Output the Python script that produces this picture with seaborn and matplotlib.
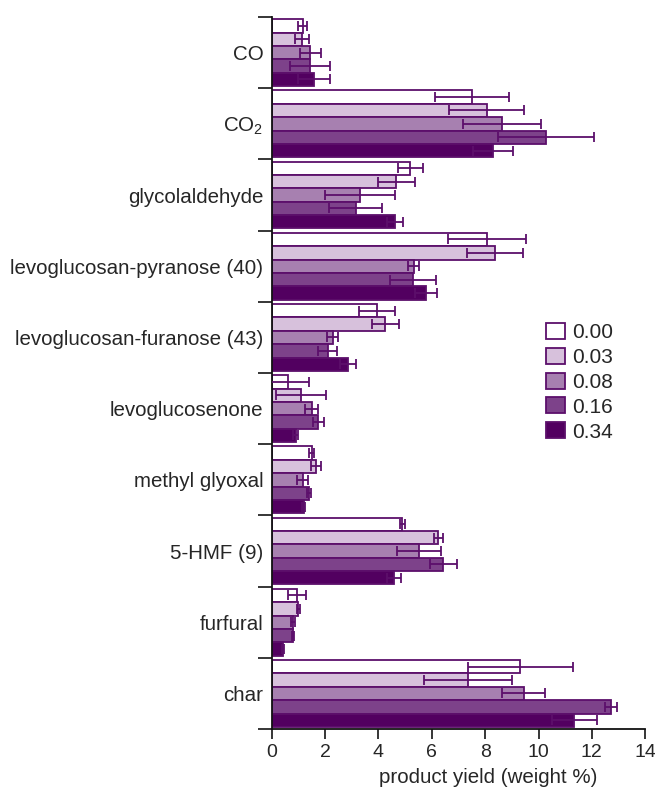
import numpy as np
import pandas as pd
import matplotlib
matplotlib.use("Agg")
import matplotlib.pyplot as plt
import seaborn as sns

# categories (top to bottom) and series
products = ["CO", "CO$_2$", "glycolaldehyde", "levoglucosan-pyranose (40)",
            "levoglucosan-furanose (43)", "levoglucosenone", "methyl glyoxal",
            "5-HMF (9)", "furfural", "char"]
levels = ["0.00", "0.03", "0.08", "0.16", "0.34"]

yield_000 = [1.16, 7.52, 5.19, 8.07, 3.94, 0.59, 1.49, 4.89, 0.94, 9.31]
yield_003 = [1.14, 8.05, 4.67, 8.37, 4.26, 1.11, 1.66, 6.25, 1.00, 7.35]
yield_008 = [1.45, 8.62, 3.30, 5.32, 2.28, 1.49, 1.16, 5.52, 0.79, 9.44]
yield_016 = [1.44, 10.28, 3.15, 5.29, 2.10, 1.74, 1.40, 6.43, 0.80, 12.73]
yield_034 = [1.60, 8.29, 4.62, 5.77, 2.87, 0.89, 1.19, 4.59, 0.41, 11.34]

err_000 = [0.17, 1.39, 0.47, 1.47, 0.68, 0.79, 0.11, 0.10, 0.33, 1.97]
err_003 = [0.26, 1.42, 0.69, 1.06, 0.52, 0.94, 0.20, 0.17, 0.06, 1.64]
err_008 = [0.40, 1.47, 1.31, 0.20, 0.21, 0.25, 0.20, 0.82, 0.07, 0.82]
err_016 = [0.76, 1.79, 1.00, 0.87, 0.36, 0.20, 0.08, 0.50, 0.05, 0.22]
err_034 = [0.60, 0.76, 0.31, 0.41, 0.30, 0.11, 0.05, 0.26, 0.04, 0.84]

colors = ["#ffffff", "#d7c1dc", "#a780b0", "#7d428a", "#520060"]
edge = "#5c0f6b"

all_vals = [yield_000, yield_003, yield_008, yield_016, yield_034]
all_errs = [err_000, err_003, err_008, err_016, err_034]

rows = []
for lev, vals in zip(levels, all_vals):
    for p, v in zip(products, vals):
        rows.append({"product": p, "level": lev, "yield": v})
df = pd.DataFrame(rows)

sns.set_style("ticks")
plt.rcParams["font.family"] = ["Liberation Sans", "DejaVu Sans"]
plt.rcParams["mathtext.fontset"] = "custom"
plt.rcParams["mathtext.rm"] = "Liberation Sans"

fig = plt.figure(figsize=(6.55, 7.92), dpi=100)
ax = fig.add_axes([0.415, 0.0795, 0.57, 0.899])

sns.barplot(data=df, y="product", x="yield", hue="level", order=products,
            hue_order=levels, palette=colors, saturation=1, orient="h",
            width=0.94, edgecolor=edge, linewidth=1.3, errorbar=None, ax=ax)

# error bars placed on the drawn bars
for cont, errs in zip(ax.containers, all_errs):
    ys = [b.get_y() + b.get_height() / 2 for b in cont]
    xs = [b.get_width() for b in cont]
    ax.errorbar(xs, ys, xerr=errs, fmt="none", ecolor=edge, elinewidth=1.3,
                capsize=3.5, capthick=1.3, zorder=5)

ax.set_xlim(0, 14)
ax.set_ylim(len(products) - 0.5, -0.5)
ax.set_xticks(np.arange(0, 15, 2))
ax.tick_params(axis="x", labelsize=14, length=7, width=1.3, direction="out")

# group boundaries as major ticks, labels at centres as minor ticks
ax.set_yticks(np.arange(-0.5, len(products), 1.0))
ax.set_yticklabels([])
ax.tick_params(axis="y", which="major", length=10, width=1.3)
ax.set_yticks(np.arange(len(products)), minor=True)
ax.set_yticklabels(products, minor=True, fontsize=14.8)
ax.tick_params(axis="y", which="minor", length=0, pad=6)

ax.set_ylabel("")
ax.set_xlabel("product yield (weight %)", fontsize=14.8, labelpad=2)
ax.xaxis.set_label_coords(0.58, -0.055)
sns.despine(ax=ax)
for s in ["left", "bottom"]:
    ax.spines[s].set_linewidth(1.3)
    ax.spines[s].set_color("#111111")

handles, labels = ax.get_legend_handles_labels()
ax.legend(handles, labels, title=None, frameon=False, fontsize=15,
          loc="upper left", bbox_to_anchor=(0.713, 0.582), handlelength=0.9,
          handleheight=0.8, handletextpad=0.35, labelspacing=0.27,
          borderaxespad=0)

fig.savefig("out.png", dpi=100)
